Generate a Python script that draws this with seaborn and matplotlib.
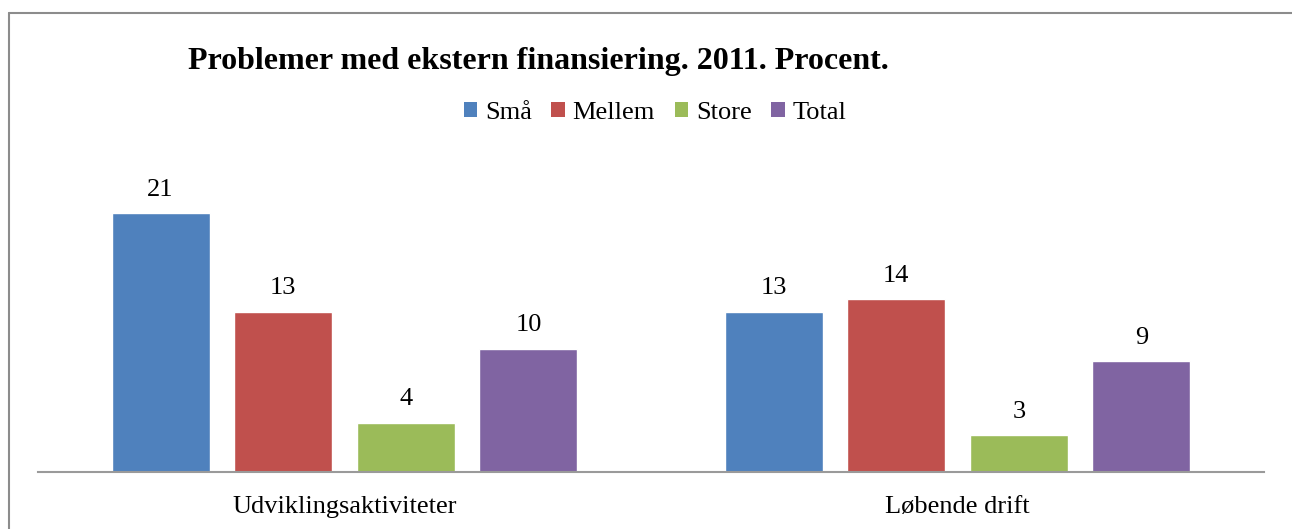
import matplotlib
matplotlib.use("Agg")
import matplotlib.pyplot as plt
from matplotlib.lines import Line2D
from matplotlib.patches import Patch
import pandas as pd
import seaborn as sns

categories = ["Udviklingsaktiviteter", "Løbende drift"]
groups = ["Små", "Mellem", "Store", "Total"]
small = [21, 13]
medium = [13, 14]
large = [4, 3]
total = [10, 9]
colors = ["#4F81BD", "#C0504D", "#9BBB59", "#8064A2"]

df = pd.DataFrame({
    "kategori": categories * 4,
    "gruppe": [g for g in groups for _ in categories],
    "pct": small + medium + large + total,
})

sns.set_style("white")
plt.rcParams["font.family"] = ["Liberation Serif", "DejaVu Serif"]
plt.rcParams["text.color"] = "black"
plt.rcParams["xtick.color"] = "black"

fig = plt.figure(figsize=(12.92, 5.29), dpi=100)
ax = fig.add_axes([38 / 1292, 57 / 529, 1226 / 1292, 308.3 / 529])

sns.barplot(data=df, x="kategori", y="pct", hue="gruppe", order=categories,
            hue_order=groups, palette=colors, width=0.8, gap=0.2,
            saturation=1, ax=ax, legend=False)

for cont in ax.containers:
    ax.bar_label(cont, fmt="%d", padding=9, fontsize=19, color="black")

ax.set_ylim(0, 25)
ax.set_xlim(-0.5, 1.5)
ax.set_xlabel("")
ax.set_ylabel("")
ax.set_yticks([])
ax.tick_params(axis="x", length=0, labelsize=19, pad=17, labelcolor="black")
for s in ["left", "right", "top"]:
    ax.spines[s].set_visible(False)
ax.spines["bottom"].set_color("#9a9a9a")
ax.spines["bottom"].set_linewidth(1.5)

fig.text(538 / 1292, 1 - 62 / 529, "Problemer med ekstern finansiering. 2011. Procent.",
         ha="center", va="center", fontsize=23, fontweight="bold", color="black")

handles = [Patch(facecolor=c, edgecolor="none") for c in colors]
fig.legend(handles, groups, loc="center", bbox_to_anchor=(655 / 1292, 1 - 113 / 529),
           ncol=4, frameon=False, fontsize=19, handlelength=0.5, handleheight=0.5,
           handletextpad=0.3, columnspacing=0.75, labelcolor="black")

# outer chart frame (left and top edge only visible)
fig.add_artist(Line2D([9 / 1292, 9 / 1292], [0, 1 - 13 / 529], transform=fig.transFigure,
                      color="#8c8c8c", lw=1.5))
fig.add_artist(Line2D([9 / 1292, 1], [1 - 13 / 529, 1 - 13 / 529], transform=fig.transFigure,
                      color="#8c8c8c", lw=1.5))

fig.savefig("out.png", dpi=100, facecolor="white")
